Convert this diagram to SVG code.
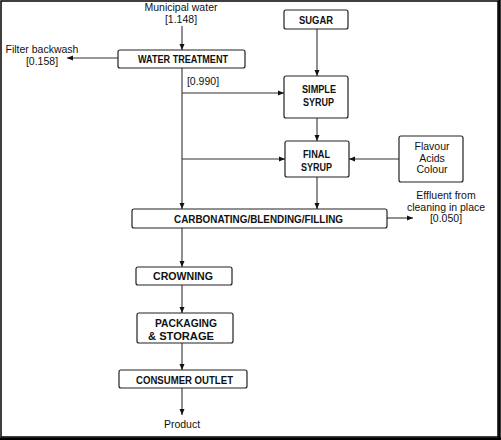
<svg xmlns="http://www.w3.org/2000/svg" width="501" height="440" viewBox="0 0 501 440">
<defs>
<marker id="ah" markerWidth="6" markerHeight="6" refX="6" refY="3" orient="auto" markerUnits="userSpaceOnUse">
<path d="M0,0.5 L6,3 L0,5.5 z" fill="#111"/>
</marker>
<style>
.box{fill:#fff;stroke:#222;stroke-width:1.2}
.b{font-family:"Liberation Sans",Arial,sans-serif;font-weight:bold;font-size:11px;fill:#111;text-anchor:middle}
.t{font-family:"Liberation Sans",Arial,sans-serif;font-size:10.5px;fill:#111;text-anchor:middle}
.c{fill:none;stroke:#333;stroke-width:1.1;marker-end:url(#ah)}
</style>
</defs>
<rect x="0" y="0" width="501" height="440" fill="#fff"/>
<rect x="1" y="1" width="497" height="436" fill="none" stroke="#000" stroke-width="1.5"/>
<line x1="0" y1="438.8" x2="501" y2="438.8" stroke="#000" stroke-width="2.5"/>
<line x1="499.5" y1="0" x2="499.5" y2="440" stroke="#000" stroke-width="2.5"/>

<g id="connectors">
<path class="c" d="M182,26 V50"/>
<path class="c" d="M118,58 H67"/>
<path class="c" d="M182,68 V209"/>
<path class="c" d="M182,93 H284"/>
<path class="c" d="M317,29 V76"/>
<path class="c" d="M317,118 V141"/>
<path class="c" d="M182,159 H285"/>
<path class="c" d="M399,159 H349"/>
<path class="c" d="M317,177 V209"/>
<path class="c" d="M387,218 H413"/>
<path class="c" d="M182,228 V267"/>
<path class="c" d="M182,285 V313"/>
<path class="c" d="M182,343 V370"/>
<path class="c" d="M182,388 V415"/>
</g>

<g id="municipal-water">
<text class="t" x="181" y="11">Municipal water</text>
<text class="t" x="181" y="23">[1.148]</text>
</g>
<g id="filter-backwash">
<text class="t" x="42" y="53">Filter backwash</text>
<text class="t" x="42" y="65">[0.158]</text>
</g>
<g id="water-treatment">
<rect class="box" x="118" y="50" width="127" height="18" rx="2"/>
<text class="b" x="183" y="63" textLength="90" lengthAdjust="spacingAndGlyphs">WATER TREATMENT</text>
</g>
<g id="flow-0990">
<text class="t" x="203" y="85">[0.990]</text>
</g>
<g id="sugar">
<rect class="box" x="284" y="10" width="64" height="19" rx="2"/>
<text class="b" x="316" y="24" textLength="34" lengthAdjust="spacingAndGlyphs">SUGAR</text>
</g>
<g id="simple-syrup">
<rect class="box" x="284" y="76" width="64" height="42" rx="2"/>
<text class="b" x="319" y="93" textLength="34" lengthAdjust="spacingAndGlyphs">SIMPLE</text>
<text class="b" x="318.5" y="105.5" textLength="31" lengthAdjust="spacingAndGlyphs">SYRUP</text>
</g>
<g id="final-syrup">
<rect class="box" x="285" y="141" width="64" height="36" rx="2"/>
<text class="b" x="316.5" y="157.5" textLength="27" lengthAdjust="spacingAndGlyphs">FINAL</text>
<text class="b" x="316.5" y="171" textLength="31" lengthAdjust="spacingAndGlyphs">SYRUP</text>
</g>
<g id="flavour">
<rect class="box" x="399" y="136" width="64" height="46" rx="2"/>
<text class="t" x="432" y="150">Flavour</text>
<text class="t" x="432" y="161.5">Acids</text>
<text class="t" x="432" y="173">Colour</text>
</g>
<g id="carbonating">
<rect class="box" x="132" y="209" width="255" height="19" rx="2"/>
<text class="b" x="258.5" y="223" textLength="169" lengthAdjust="spacingAndGlyphs">CARBONATING/BLENDING/FILLING</text>
</g>
<g id="effluent">
<text class="t" x="446" y="199">Effluent from</text>
<text class="t" x="446" y="210.5">cleaning in place</text>
<text class="t" x="446" y="222">[0.050]</text>
</g>
<g id="crowning">
<rect class="box" x="136" y="267" width="96" height="18" rx="2"/>
<text class="b" x="183" y="280" textLength="60" lengthAdjust="spacingAndGlyphs">CROWNING</text>
</g>
<g id="packaging">
<rect class="box" x="137" y="313" width="96" height="30" rx="2"/>
<text class="b" x="186" y="327" textLength="62" lengthAdjust="spacingAndGlyphs">PACKAGING</text>
<text class="b" x="181" y="340" textLength="66" lengthAdjust="spacingAndGlyphs">&amp; STORAGE</text>
</g>
<g id="consumer-outlet">
<rect class="box" x="119" y="370" width="128" height="18" rx="2"/>
<text class="b" x="184.5" y="384" textLength="97" lengthAdjust="spacingAndGlyphs">CONSUMER OUTLET</text>
</g>
<g id="product">
<text class="t" x="182" y="428">Product</text>
</g>
</svg>
